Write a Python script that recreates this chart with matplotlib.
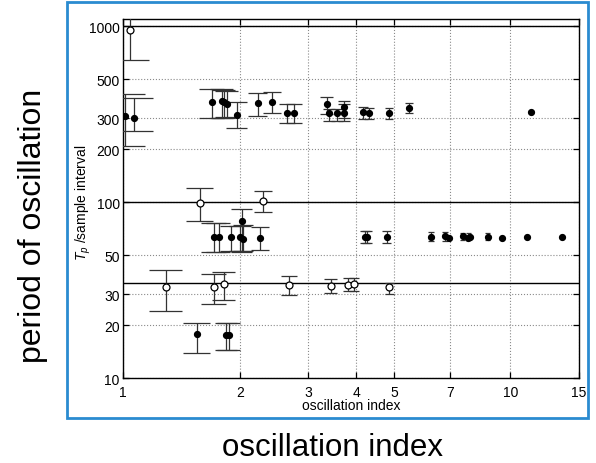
import matplotlib.pyplot as plt
import numpy as np
from matplotlib.patches import Rectangle
from matplotlib.ticker import NullLocator

plt.rcParams['font.family'] = ['Liberation Sans', 'DejaVu Sans']
plt.rcParams['mathtext.fontset'] = 'custom'
plt.rcParams['mathtext.it'] = 'Liberation Sans:italic'
plt.rcParams['mathtext.rm'] = 'Liberation Sans'

# open circles: oscillation index, period, error bar low / high
x_open = [1.042, 1.291, 1.575, 1.712, 1.82, 2.296, 2.68, 3.435, 3.814, 3.945, 4.868]
y_open = [953, 32.9, 99, 32.9, 34.2, 102, 33.9, 33.6, 34.0, 34.3, 32.9]
lo_open = [646, 24.2, 78, 26.4, 27.9, 88, 29.7, 30.4, 31.2, 31.2, 30.3]
hi_open = [1300, 41.4, 120, 39.1, 40.3, 116, 38, 36.6, 37, 37, 34.9]

# filled circles (nan = no error bar drawn)
nan = np.nan
x_filled = [1.012, 1.066, 1.695, 1.796, 1.82, 1.854, 1.967, 2.229, 2.427, 2.653,
            2.761, 3.355, 3.40, 3.56, 3.718, 3.718, 4.169, 4.32, 4.86, 5.483, 11.31,
            1.712, 1.764, 1.901, 2.006, 2.026, 2.042, 2.26, 4.21, 4.27, 4.79,
            6.24, 6.78, 6.94, 7.53, 7.79, 7.87, 8.74, 9.50, 11.03, 13.58,
            1.553, 1.846, 1.873]
y_filled = [310, 300, 370, 375, 373, 362, 315, 365, 373, 321,
            321, 362, 320, 320, 349, 323, 324, 321, 323, 342, 324,
            63.8, 63.8, 63.8, 63.8, 78, 61.9, 63, 63.8, 63.8, 63.8,
            63.8, 64, 63, 64, 63, 63.8, 63.8, 62.5, 63.8, 63.8,
            17.9, 17.7, 17.7]
lo_filled = [209, 253, 300, 300, 300, 305, 264, 310, 321, 283,
             283, 318, 288, 288, 300, 288, 296, 296, 298, 321, nan,
             52, 52, 53, 53, 52, 53, 53.6, 58.7, 58.7, 59,
             60, 60, nan, 61, 61, nan, 61, nan, nan, nan,
             14.0, 14.5, 14.5]
hi_filled = [412, 391, 440, 440, 435, 430, 370, 416, 422, 362,
             362, 398, 340, 340, 378, 360, 349, 345, 344, 365, nan,
             76, 76, 73.6, 73, 92, 74, 72, 69, 69, 68.5,
             68, 68, nan, 66.5, 66.5, nan, 66.5, nan, nan, nan,
             20.6, 20.6, 20.6]

ref_lines = [1000, 100, 35]
x_ticks = [1, 2, 3, 4, 5, 7, 10, 15]
y_ticks = [10, 20, 30, 50, 100, 200, 300, 500, 1000]

bar_color = '#333333'


def draw_bars(ax, x, lo, hi, tee):
    '''
    Error bars with caps of fixed width in data units.
    '''
    x = np.array(x)
    lo = np.array(lo)
    hi = np.array(hi)
    ok = ~np.isnan(lo)
    ax.vlines(x[ok], lo[ok], hi[ok], color=bar_color, lw=0.9, zorder=3)
    ax.hlines(lo[ok], x[ok] - tee, x[ok] + tee, color=bar_color, lw=0.9, zorder=3)
    ax.hlines(hi[ok], x[ok] - tee, x[ok] + tee, color=bar_color, lw=0.9, zorder=3)


fig = plt.figure(figsize=(5.96, 4.64), dpi=100)
ax = fig.add_axes([0.2069, 0.1825, 0.7638, 0.7744])
ax.set_xscale('log')
ax.set_yscale('log')

all_x = x_open + x_filled
tee = (max(all_x) - min(all_x)) / 100

ax.grid(True, which='major', ls=':', color='#8a8a8a', lw=0.8)
for v in ref_lines:
    ax.axhline(v, color='black', lw=1.0, zorder=2)

draw_bars(ax, x_open, lo_open, hi_open, tee)
draw_bars(ax, x_filled, lo_filled, hi_filled, tee)

ax.plot(x_open, y_open, 'o', ms=5, mfc='white', mec='black', mew=0.9, zorder=4)
ax.plot(x_filled, y_filled, 'o', ms=4.2, color='black', zorder=4)

ax.set_xlim(1, 15)
ax.set_ylim(10, 1100)
ax.set_xticks(x_ticks)
ax.set_xticklabels([str(t) for t in x_ticks])
ax.set_yticks(y_ticks)
ax.set_yticklabels([str(t) for t in y_ticks])
ax.xaxis.set_minor_locator(NullLocator())
ax.yaxis.set_minor_locator(NullLocator())
ax.tick_params(direction='in', top=True, right=True, length=4, width=0.9,
               labelsize=10, colors='black')
ax.tick_params(axis='x', pad=4.5)
ax.tick_params(axis='y', pad=2.5)
for s in ax.spines.values():
    s.set_linewidth(1.0)

ax.set_xlabel('oscillation index', fontsize=10)
ax.set_ylabel(r'$T_p$ /sample interval', fontsize=10)
ax.xaxis.set_label_coords(0.5, -0.055)
ax.yaxis.set_label_coords(-0.066, 0.49)

# outer frame and big labels
fig.patches.append(Rectangle((67 / 596, 1 - 419 / 464), 521 / 596, 416 / 464,
                             transform=fig.transFigure, fill=False,
                             ec='#2a8bd0', lw=2))
fig.text(33 / 596, 1 - 226 / 464, 'period of oscillation', rotation=90,
         ha='center', va='center', fontsize=23)
fig.text(332 / 596, 1 - 456 / 464, 'oscillation index', ha='center',
         va='baseline', fontsize=22.5)

fig.savefig('out.png', dpi=100)
